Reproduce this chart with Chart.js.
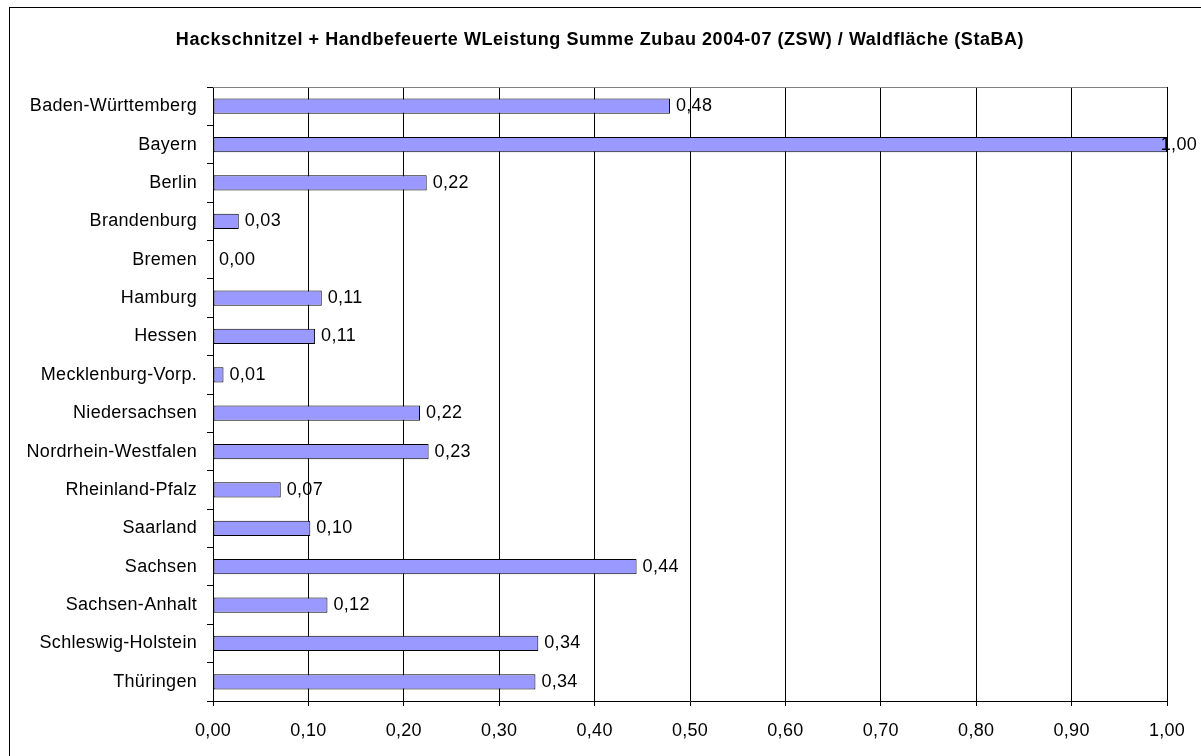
<!DOCTYPE html>
<html>
<head>
<meta charset="utf-8">
<script src="https://cdn.jsdelivr.net/npm/chart.js@4"></script>
<style>
  body { margin: 0; background: #fff; overflow: hidden; }
  canvas { display: block; }
</style>
</head>
<body>
<canvas id="chart" width="1201" height="756"></canvas>
<script>
const titleText = 'Hackschnitzel + Handbefeuerte WLeistung Summe Zubau 2004-07 (ZSW) / Waldfläche (StaBA)';

const states = [
    'Baden-Württemberg', 'Bayern', 'Berlin', 'Brandenburg', 'Bremen', 'Hamburg',
    'Hessen', 'Mecklenburg-Vorp.', 'Niedersachsen', 'Nordrhein-Westfalen',
    'Rheinland-Pfalz', 'Saarland', 'Sachsen', 'Sachsen-Anhalt',
    'Schleswig-Holstein', 'Thüringen'
];

const values = [
    0.479, 1.00, 0.224, 0.027, 0.00, 0.114,
    0.107, 0.011, 0.217, 0.226,
    0.071, 0.102, 0.444, 0.120,
    0.341, 0.338
];

const fontFamily = '"Liberation Sans", Arial, sans-serif';
const fmt = v => v.toFixed(2).replace('.', ',');

// excel text is a bit wider than canvas text, so add a little spacing
const spacing = {
    id: 'spacing',
    beforeDraw(chart) {
        chart.ctx.letterSpacing = '0.3px';
    }
};

// title drawn by hand so it can get the wider letter spacing
const titleBox = {
    id: 'titleBox',
    afterDraw(chart) {
        const ctx = chart.ctx;
        ctx.save();
        ctx.letterSpacing = '0.55px';
        ctx.font = 'bold 18px ' + fontFamily;
        ctx.fillStyle = '#000';
        ctx.textAlign = 'center';
        ctx.textBaseline = 'middle';
        ctx.fillText(titleText, 600, 40);
        ctx.restore();
    }
};

// labels next to each bar, like the excel data labels
const barLabels = {
    id: 'barLabels',
    afterDatasetsDraw(chart) {
        const ctx = chart.ctx;
        const meta = chart.getDatasetMeta(0);
        ctx.save();
        ctx.font = '18px ' + fontFamily;
        ctx.fillStyle = '#000';
        ctx.textBaseline = 'middle';
        ctx.textAlign = 'left';
        meta.data.forEach((bar, i) => {
            const txt = fmt(values[i]);
            const w = ctx.measureText(txt).width;
            let x = bar.x + 6;
            if (x + w > chart.width - 4) x = chart.width - 4 - w;
            ctx.fillText(txt, x, bar.y);
        });
        ctx.restore();
    }
};

// outer frame + grey top edge of the plot area
const frame = {
    id: 'frame',
    afterDraw(chart) {
        const ctx = chart.ctx;
        const a = chart.chartArea;
        ctx.save();
        ctx.lineWidth = 1;
        ctx.strokeStyle = '#808080';
        ctx.beginPath();
        ctx.moveTo(a.left, Math.round(a.top) + 0.5);
        ctx.lineTo(a.right, Math.round(a.top) + 0.5);
        ctx.stroke();
        ctx.strokeStyle = '#000';
        ctx.strokeRect(9.5, 7.5, 1400, 1000);
        ctx.restore();
    }
};

const ctx = document.getElementById('chart').getContext('2d');
new Chart(ctx, {
    type: 'bar',
    data: {
        labels: states,
        datasets: [{
            data: values,
            backgroundColor: '#9999FF',
            borderColor: '#000',
            borderWidth: 1,
            borderSkipped: false,
            categoryPercentage: 1,
            barPercentage: 0.4
        }]
    },
    options: {
        indexAxis: 'y',
        responsive: false,
        animation: false,
        layout: { padding: { left: 0, right: 34, top: 87, bottom: 0 } },
        plugins: {
            legend: { display: false },
            tooltip: { enabled: false },
            title: { display: false }
        },
        scales: {
            x: {
                min: 0,
                max: 1,
                ticks: {
                    stepSize: 0.1,
                    color: '#000',
                    padding: 14,
                    font: { family: fontFamily, size: 18 },
                    callback: v => fmt(v)
                },
                grid: { color: '#000', lineWidth: 1, tickLength: 5 },
                border: { color: '#000', width: 1 },
                afterFit(scale) { scale.height = 55; }
            },
            y: {
                ticks: {
                    color: '#000',
                    padding: 10,
                    font: { family: fontFamily, size: 18 }
                },
                grid: { drawOnChartArea: false, drawTicks: true, tickLength: 6, color: '#000', offset: true },
                border: { color: '#000', width: 1 },
                afterFit(scale) { scale.width = 213; }
            }
        }
    },
    plugins: [spacing, barLabels, frame, titleBox]
});
</script>
</body>
</html>
